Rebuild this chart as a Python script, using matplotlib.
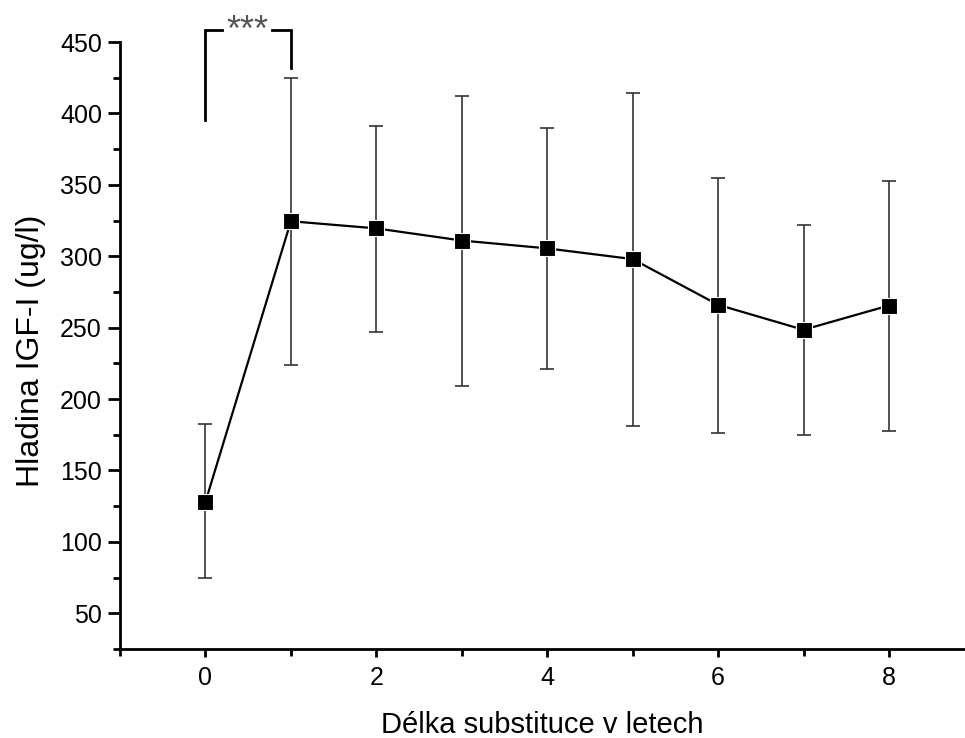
import matplotlib
matplotlib.use("Agg")
import matplotlib.pyplot as plt
from matplotlib.ticker import MultipleLocator

plt.rcParams['font.family'] = ['Liberation Sans', 'DejaVu Sans']

years = [0, 1, 2, 3, 4, 5, 6, 7, 8]
igf_mean = [128, 324.5, 319.5, 311, 305.5, 298, 266, 248.5, 265.5]
igf_upper = [182.5, 425, 391.5, 412.5, 390, 414.5, 355, 322, 353]
igf_lower = [74.5, 223.5, 247, 209, 221, 181, 176.5, 174.5, 177.5]

err_low = [m - lo for m, lo in zip(igf_mean, igf_lower)]
err_high = [hi - m for m, hi in zip(igf_mean, igf_upper)]

fig = plt.figure(figsize=(9.65, 7.38), dpi=100)
ax = fig.add_axes([120 / 965, 1 - 649 / 738, 1 - 120 / 965, (649 - 42) / 738])

ax.errorbar(years, igf_mean, yerr=[err_low, err_high], fmt='none',
            ecolor='#333333', elinewidth=1.2, capsize=4.8, capthick=1.2, zorder=2)
ax.plot(years, igf_mean, color='black', lw=1.6, marker='s', ms=11,
        mfc='black', mec='white', mew=0.8, zorder=3)

# significance bracket between 0 and 1
bracket_y = 458.5
ax.plot([0, 0, 0.19], [395.5, bracket_y, bracket_y], color='black', lw=2,
        clip_on=False, solid_joinstyle='miter')
ax.plot([0.78, 1, 1], [bracket_y, bracket_y, 432], color='black', lw=2,
        clip_on=False, solid_joinstyle='miter')
ax.text(0.49, bracket_y - 1, '***', ha='center', va='center', fontsize=26,
        color='#555555')

ax.set_xlim(-1, 8.89)
ax.set_ylim(25, 450)
ax.xaxis.set_major_locator(MultipleLocator(2))
ax.xaxis.set_minor_locator(MultipleLocator(1))
ax.yaxis.set_minor_locator(MultipleLocator(25))
ax.set_yticks(range(50, 451, 50))

for side in ['top', 'right']:
    ax.spines[side].set_visible(False)
for side in ['left', 'bottom']:
    ax.spines[side].set_linewidth(2)

ax.tick_params(axis='y', which='major', length=9, width=2, labelsize=18, pad=4)
ax.tick_params(axis='y', which='minor', length=5, width=2)
ax.tick_params(axis='x', which='major', length=6, width=2, labelsize=18, pad=6)
ax.tick_params(axis='x', which='minor', length=5, width=2)

ax.set_xlabel('Délka substituce v letech', fontsize=21, va='baseline')
ax.xaxis.set_label_coords(0.5, -(733 - 649) / 607)
ax.set_ylabel('Hladina IGF-I (ug/l)', fontsize=23)
ax.yaxis.set_label_coords(-(120 - 46) / 845, (649 - 351) / 607)

fig.savefig('out.png', dpi=100)
